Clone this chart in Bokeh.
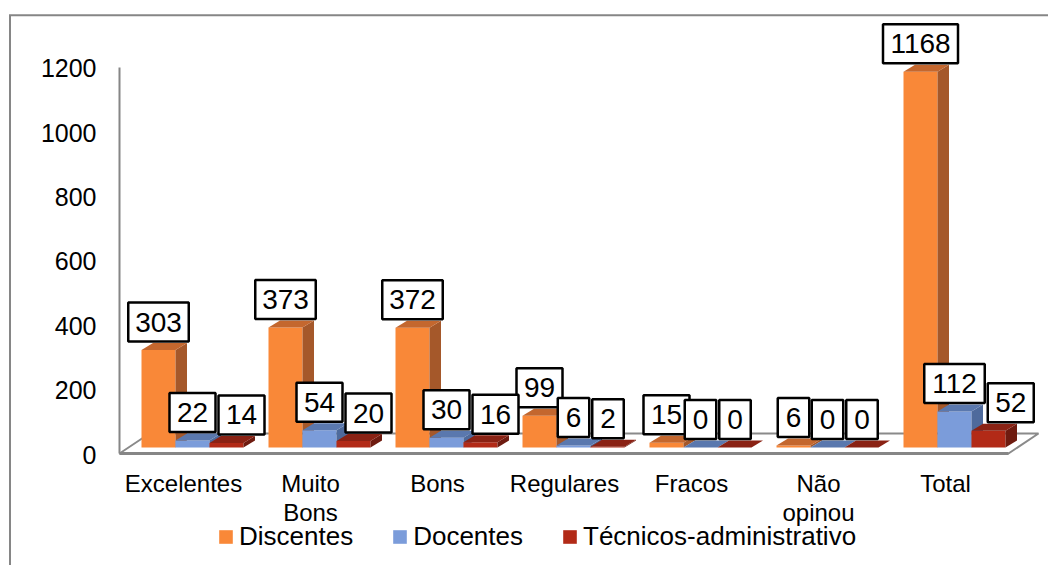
from bokeh.plotting import figure
from bokeh.models import Range1d, Legend, LegendItem, ColumnDataSource
from bokeh.embed import file_html
from bokeh.resources import INLINE
from bokeh.core.properties import value

# ---------------- data ----------------
categories = ["Excelentes", "Muito\nBons", "Bons", "Regulares", "Fracos", "Não\nopinou", "Total"]
series_names = ["Discentes", "Docentes", "Técnicos-administrativo"]
discentes = [303, 373, 372, 99, 15, 6, 1168]
docentes = [22, 54, 30, 6, 0, 0, 112]
tecnicos = [14, 20, 16, 2, 0, 0, 52]
y_ticks = [0, 200, 400, 600, 800, 1000, 1200]
y_tick_labels = ["0", "200", "400", "600", "800", "1000", "1200"]

series_values = [discentes, docentes, tecnicos]
front_colors = ["#F98838", "#7B9CDA", "#B22A17"]
side_colors = ["#A5582A", "#4E6A9C", "#6E1B10"]
top_colors = ["#C4672E", "#5A78AE", "#8A2214"]

# ---------------- layout constants (pixels) ----------------
W, H = 1048, 565
GROUP_PX = 127.0         # distance between category groups
G0_PX = 192.0            # x of the first group's centre
BASE_PX = 447.0          # y of value 0 at the bars' front
KPX = 0.3217             # pixels per unit value
BAR_PX = 34.0
DEPTH_DX, DEPTH_DY = 11.5, 7.0
BOX_H = 39.0
LABEL_GAP = 3.0
FONT_NAME = "Liberation Sans"
FONT = value(FONT_NAME)


def px_x(n):
    return n / GROUP_PX


def px_y(n):
    return n / KPX


def fx(figx):
    return (figx - G0_PX) / GROUP_PX


def fy(figy):
    return (BASE_PX - figy) / KPX


def box_w(v):
    return 14.5 * len(str(v)) + 17


p = figure(width=W, height=H, output_backend="svg", toolbar_location=None,
           x_range=Range1d(fx(0), fx(W)), y_range=Range1d(fy(H), fy(0)),
           x_axis_location=None, y_axis_location=None, min_border=0)
p.outline_line_color = None
p.background_fill_color = "white"
p.border_fill_color = "white"
p.grid.visible = False

n = len(categories)
gx = list(range(n))

# ---------------- outer frame of the chart area ----------------
p.line([fx(9.5), fx(9.5)], [fy(H + 5), fy(14.8)], line_color="#868686", line_width=2)
p.line([fx(8.5), fx(W + 5)], [fy(14.8), fy(14.8)], line_color="#868686", line_width=2)

# ---------------- floor and value axis ----------------
axis_shift = px_y(6)
x_left = 0 - px_x(73)
x_right = (n - 1) + px_x(54)
floor_back = px_x(30)
y_front = -axis_shift
y_back = px_y(14)
p.patch([x_left, x_right, x_right + floor_back, x_left + floor_back],
        [y_front, y_front, y_back, y_back],
        fill_color="white", line_color="#8A8A8A", line_width=2)
p.line([x_left, x_right], [y_front, y_front], line_color="#868686", line_width=3)
p.line([x_left, x_left], [y_front, y_ticks[-1] - axis_shift], line_color="#868686", line_width=2)

p.text(x=[x_left - px_x(23)] * len(y_ticks), y=[t - axis_shift - px_y(1) for t in y_ticks],
       text=y_tick_labels, text_align="right", text_baseline="middle",
       text_font=FONT, text_font_size="25px", text_color="black")

# ---------------- category labels ----------------
p.text(x=[g - px_x(9) for g in gx], y=[fy(469.5)] * n, text=categories,
       text_align="center", text_baseline="top", text_line_height=1.08,
       text_font=FONT, text_font_size="24px", text_color="black")

# ---------------- 3D bars ----------------
ddx, ddy = px_x(DEPTH_DX), px_y(DEPTH_DY)
bw = px_x(BAR_PX)
front_renderers = []
for s, vals in enumerate(series_values):
    xc = [g + (s - 1) * bw for g in gx]
    r = p.vbar(x=xc, width=bw, top=vals, bottom=0, fill_color=front_colors[s], line_color=None)
    front_renderers.append(r)
    side_xs, side_ys, top_xs, top_ys = [], [], [], []
    for x, v in zip(xc, vals):
        x0, x1 = x - bw / 2, x + bw / 2
        side_xs.append([x1, x1 + ddx, x1 + ddx, x1])
        side_ys.append([0, ddy, v + ddy, v])
        top_xs.append([x0, x1, x1 + ddx, x0 + ddx])
        top_ys.append([v, v, v + ddy, v + ddy])
    p.patches(side_xs, side_ys, fill_color=side_colors[s], line_color=None)
    p.patches(top_xs, top_ys, fill_color=top_colors[s], line_color=None)

# ---------------- data labels ----------------
# label x positions (in px offsets from the bar centre); the last series is
# pushed right when its box would collide with the previous series' box
label_shift = [[0.0] * n for _ in series_values]
for g in gx:
    vb, vr = docentes[g], tecnicos[g]
    if abs(vb - vr) * KPX < BOX_H:
        blue_right = box_w(vb) / 2
        red_left = BAR_PX - box_w(vr) / 2
        need = blue_right + LABEL_GAP - red_left
        if need > 0:
            label_shift[2][g] = need

for s, vals in enumerate(series_values):
    xc = [g + (s - 1) * bw + px_x(label_shift[s][g]) for g in gx]
    src = ColumnDataSource(dict(
        x=xc, y=[v + px_y(28) for v in vals], text=[str(v) for v in vals],
        w=[box_w(v) for v in vals]))
    p.rect(x="x", y="y", width="w", height=BOX_H, width_units="screen", height_units="screen",
           source=src, fill_color="white", line_color="black", line_width=2.5)
    p.text(x="x", y="y", text="text", source=src, text_align="center", text_baseline="middle",
           text_font=FONT, text_font_size="28px", text_color="black")

# ---------------- legend ----------------
legend = Legend(items=[LegendItem(label=nm, renderers=[r]) for nm, r in zip(series_names, front_renderers)],
                orientation="horizontal", location=(217, 13),
                glyph_width=17, glyph_height=17, label_standoff=5, spacing=38,
                padding=0, margin=0, border_line_color=None, background_fill_alpha=0,
                label_text_font=FONT_NAME, label_text_font_size="26px", label_text_color="black")
p.add_layout(legend)

open("out.html", "w").write(file_html(p, INLINE))
